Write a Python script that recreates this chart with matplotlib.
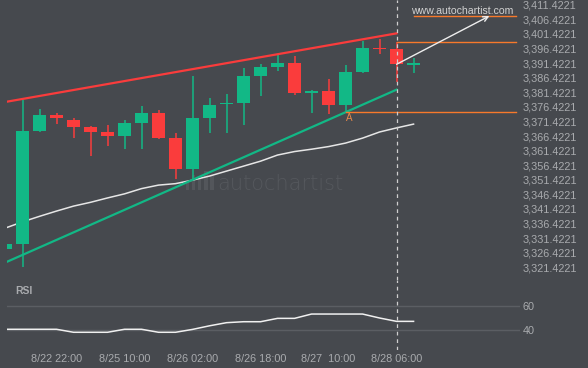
import numpy as np
import matplotlib
matplotlib.use('Agg')
import matplotlib.pyplot as plt
from matplotlib.patches import Rectangle

# --- datos (velas de 4h) ---
opens = [3327.8, 3329.5, 3368.1, 3373.6, 3371.9, 3369.5, 3367.8, 3366.4, 3371.0, 3374.3,
         3365.8, 3355.2, 3372.6, 3377.4, 3377.8, 3387.0, 3390.2, 3391.4, 3381.3, 3381.9,
         3377.2, 3388.4, 3396.6, 3396.2, 3390.9]
highs = [3330.0, 3378.8, 3375.6, 3374.2, 3372.5, 3369.9, 3370.1, 3371.9, 3376.7, 3375.3,
         3367.4, 3387.0, 3379.4, 3380.7, 3389.7, 3391.2, 3394.1, 3393.8, 3382.1, 3385.9,
         3390.8, 3399.1, 3399.8, 3398.5, 3393.0]
lows = [3327.0, 3321.4, 3367.9, 3370.4, 3365.8, 3359.7, 3363.1, 3362.1, 3362.1, 3365.3,
        3351.8, 3351.8, 3367.4, 3367.4, 3370.3, 3380.2, 3388.8, 3380.6, 3374.2, 3373.9,
        3374.9, 3387.9, 3394.5, 3385.0, 3388.1]
closes = [3329.4, 3368.1, 3373.6, 3372.7, 3369.5, 3367.8, 3366.4, 3370.9, 3374.4, 3365.8,
          3355.2, 3372.6, 3377.0, 3377.7, 3387.0, 3390.2, 3391.5, 3381.3, 3382.0, 3377.2,
          3388.4, 3396.6, 3396.1, 3391.0, 3391.0]
media_movil = [3334.9, 3337.0, 3338.9, 3340.7, 3342.4, 3343.7, 3345.2, 3346.6, 3348.4, 3349.6,
               3350.1, 3351.3, 3352.7, 3354.4, 3356.1, 3357.8, 3359.9, 3361.1, 3361.9, 3362.8,
               3364.0, 3365.7, 3367.8, 3369.2, 3370.5]
rsi = [40.6, 40.6, 40.6, 40.6, 38.1, 38.1, 38.1, 40.6, 40.6, 38.1,
       38.1, 40.5, 43.5, 46.1, 46.9, 46.9, 49.7, 49.7, 53.3, 53.3,
       53.3, 53.3, 50.0, 47.2, 47.2]

resistencia = [(0, 3378.1), (23, 3401.6)]
soporte = [(0, 3323.1), (23, 3382.3)]
niveles = [(24, 3407.55), (23, 3398.5), (20, 3374.55)]
flecha = [(23, 3391.0), (28.46, 3407.55)]
punto_a = (20, 3372.6)
vela_actual = 23

tick_pos = [3, 7, 11, 15, 19, 23]
tick_labels = ['8/22 22:00', '8/25 10:00', '8/26 02:00', '8/26 18:00', '8/27  10:00', '8/28 06:00']
precios_ticks = [3321.4221 + 5 * i for i in range(19)]
rsi_ticks = [40, 60]

# --- estilo ---
fondo = '#46494e'
verde = '#12b886'
rojo = '#fa3c3c'
naranja = '#f7792b'
gris_txt = '#a9abae'
plt.rcParams['font.family'] = ['Liberation Sans', 'DejaVu Sans']

fig = plt.figure(figsize=(5.88, 3.68), dpi=100, facecolor=fondo)
ax = fig.add_axes([7 / 588, 88 / 368, 513 / 588, 280 / 368], facecolor=fondo)
ax_rsi = fig.add_axes([7 / 588, 18 / 368, 513 / 588, 70 / 368], facecolor=fondo)

x = np.arange(len(opens))
ancho = 0.76
for i in x:
    o, h, l, c = opens[i], highs[i], lows[i], closes[i]
    color = verde if c >= o else rojo
    ax.vlines(i, l, h, color=color, linewidth=1.1, zorder=3)
    alto = max(abs(c - o), 0.45)
    ax.add_patch(Rectangle((i - ancho / 2, min(o, c)), ancho, alto,
                           facecolor=color, edgecolor='none', zorder=4))

ax.plot(x, media_movil, color='#e6e6e6', linewidth=1.1, zorder=2)
ax.plot(*zip(*resistencia), color=rojo, linewidth=1.6, zorder=5)
ax.plot(*zip(*soporte), color=verde, linewidth=1.6, zorder=5)

x_fin = 30.0
for xi, yi in niveles:
    ax.plot([xi, x_fin], [yi, yi], color=naranja, linewidth=1.0, zorder=5)
ax.text(punto_a[0] + 0.05, punto_a[1], 'A', color='#e98a4a', fontsize=7,
        ha='left', va='center', zorder=6)

ax.annotate('', xy=flecha[1], xytext=flecha[0],
            arrowprops=dict(arrowstyle='->', color='#eeeeee', lw=1.0,
                            mutation_scale=9, shrinkA=0, shrinkB=0), zorder=6)
ax.text(x_fin - 0.1, 3409.4, 'www.autochartist.com', color='#d2d2d2', fontsize=7.6,
        ha='right', va='center', zorder=6)

# marca de agua
ax.text(0.409, 0.343, 'autochartist', transform=ax.transAxes, color='#55585d',
        fontsize=15, fontfamily='DejaVu Sans', fontweight='light', ha='left', va='center', zorder=1)
for bx, bh in [(0.348, 0.035), (0.360, 0.055), (0.372, 0.045), (0.384, 0.07), (0.396, 0.05)]:
    ax.add_patch(Rectangle((bx, 0.32), 0.007, bh, transform=ax.transAxes,
                           facecolor='#53565b', edgecolor='none', zorder=1))

for a in (ax, ax_rsi):
    a.axvline(vela_actual, color='#cfcfcf', linewidth=0.9, linestyle=(0, (3, 3)), zorder=7)
    a.set_xlim(0.088, 30.26)
    for s in a.spines.values():
        s.set_visible(False)
    a.yaxis.tick_right()
    a.tick_params(length=0, colors=gris_txt, labelsize=7.8, pad=2)

ax.set_ylim(3317.08, 3413.03)
ax.set_yticks(precios_ticks)
ax.set_yticklabels([f'{p:,.4f}' for p in precios_ticks])
ax.set_xticks([])

ax_rsi.plot(x, rsi, color='#f0f0f0', linewidth=1.1, zorder=3)
ax_rsi.set_ylim(23.33, 81.67)
ax_rsi.set_yticks(rsi_ticks)
ax_rsi.grid(axis='y', color='#5b5e63', linewidth=1.0)
ax_rsi.set_axisbelow(True)
ax_rsi.set_xticks(tick_pos)
ax_rsi.set_xticklabels(tick_labels)
ax_rsi.tick_params(axis='x', pad=3)
ax_rsi.text(0.0156, 0.843, 'RSI', transform=ax_rsi.transAxes, color=gris_txt,
            fontsize=7.5, fontweight='bold', ha='left', va='center')

fig.savefig('out.png', dpi=100, facecolor=fondo)
